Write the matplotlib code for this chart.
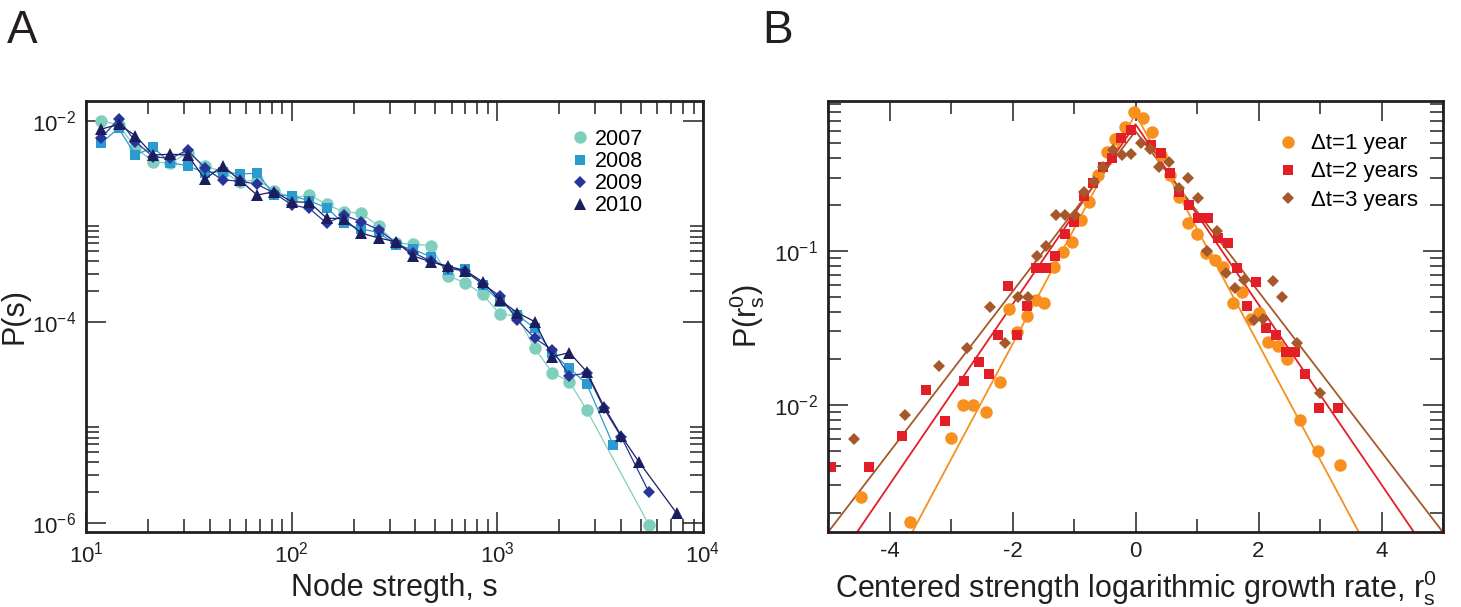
import numpy as np
import matplotlib
matplotlib.use("Agg")
import matplotlib.pyplot as plt
from matplotlib.lines import Line2D
from matplotlib.ticker import FixedLocator, FuncFormatter, NullFormatter

plt.rcParams['font.family'] = ['Liberation Sans', 'DejaVu Sans']
plt.rcParams['mathtext.fontset'] = 'custom'
plt.rcParams['mathtext.rm'] = 'Liberation Sans'
plt.rcParams['mathtext.it'] = 'Liberation Sans:italic'
plt.rcParams['mathtext.default'] = 'regular'
plt.rcParams['axes.unicode_minus'] = False

# ---- panel A : strength distribution (log bins) ----
s_bins = [11.8, 14.4, 17.4, 21.2, 25.7, 31.2, 37.9, 46.1, 55.9, 67.9, 82.5,
          100, 122, 148, 179, 218, 265, 321, 390, 474, 575, 699, 848, 1030,
          1250, 1520, 1850, 2240, 2720, 3300, 4010, 4870]

p_2007 = [1.0e-2, 9.1e-3, 5.39e-3, 3.91e-3, 3.77e-3, 4.78e-3, 3.56e-3, 3.11e-3,
          2.47e-3, 2.57e-3, 2.01e-3, 1.70e-3, 1.82e-3, 1.47e-3, 1.24e-3, 1.20e-3,
          8.89e-4, 6.02e-4, 5.93e-4, 5.70e-4, 2.85e-4, 2.44e-4, 1.87e-4, 1.19e-4,
          1.14e-4, 5.43e-5, 3.11e-5, 2.53e-5, 1.32e-5, 9.5e-7]
p_2008 = [5.96e-3, 8.4e-3, 4.56e-3, 5.43e-3, 3.82e-3, 3.56e-3, 3.04e-3, 3.11e-3,
          2.95e-3, 3.0e-3, 1.82e-3, 1.8e-3, 1.59e-3, 1.36e-3, 9.5e-4, 8.36e-4,
          7.73e-4, 5.8e-4, 5.25e-4, 4.43e-4, 3.27e-4, 3.34e-4, 2.32e-4, 1.58e-4,
          1.17e-4, 8.59e-5, 4.85e-5, 3.44e-5, 2.4e-5, 5.93e-6]
p_2009 = [6.68e-3, 1.04e-2, 6.18e-3, 4.38e-3, 4.22e-3, 5.1e-3, 3.36e-3, 2.57e-3,
          2.51e-3, 2.33e-3, 1.9e-3, 1.45e-3, 1.34e-3, 9.5e-4, 1.15e-3, 9.9e-4,
          8.2e-4, 6.1e-4, 4.86e-4, 4.02e-4, 3.44e-4, 3.16e-4, 2.37e-4, 1.8e-4,
          1.04e-4, 6.84e-5, 5.23e-5, 2.9e-5, 3.07e-5, 1.37e-5, 7.08e-6, 2.01e-6]
p_2010 = [8.21e-3, 9.2e-3, 7.1e-3, 4.56e-3, 4.63e-3, 4.56e-3, 2.61e-3, 3.56e-3,
          2.57e-3, 1.82e-3, 1.97e-3, 1.56e-3, 1.54e-3, 1.07e-3, 1.06e-3, 7.59e-4,
          6.81e-4, 6.25e-4, 4.51e-4, 3.95e-4, 3.58e-4, 3.21e-4, 2.5e-4, 1.64e-4,
          1.23e-4, 1.0e-4, 4.49e-5, 4.92e-5, 3.18e-5, 1.43e-5, 7.29e-6, 4.05e-6,
          1.24e-6]

# last bin of each year sits off the common grid
s_2007 = s_bins[:29] + [5460]
s_2008 = s_bins[:29] + [3660]
s_2009 = s_bins[:31] + [5460]
s_2010 = s_bins[:32] + [7450]

years = ['2007', '2008', '2009', '2010']

# ---- panel B : growth rate distributions ----
r_dt1 = [-4.46, -3.66, -3.00, -2.80, -2.64, -2.43, -2.21, -2.06, -1.92, -1.77,
         -1.62, -1.48, -1.33, -1.18, -1.04, -0.88, -0.75, -0.61, -0.46, -0.33,
         -0.17, -0.03, 0.12, 0.27, 0.42, 0.56, 0.70, 0.85, 1.00, 1.15, 1.29,
         1.43, 1.58, 1.73, 1.87, 2.01, 2.16, 2.31, 2.46, 2.67, 2.96, 3.33]
p_dt1 = [2.54e-3, 1.75e-3, 6.08e-3, 1.0e-2, 1.0e-2, 9.05e-3, 1.40e-2, 4.18e-2,
         2.99e-2, 3.8e-2, 4.8e-2, 4.57e-2, 7.9e-2, 9.8e-2, 0.115, 0.159, 0.209,
         0.312, 0.438, 0.533, 0.641, 0.796, 0.727, 0.59, 0.42, 0.31, 0.225,
         0.153, 0.128, 0.0975, 0.0875, 0.079, 0.0457, 0.054, 0.0362, 0.0394,
         0.0257, 0.0243, 0.0199, 8.0e-3, 5.0e-3, 4.07e-3]

r_dt2 = [-4.95, -4.34, -3.79, -3.41, -3.10, -2.79, -2.54, -2.39, -2.24, -2.08,
         -1.92, -1.77, -1.61, -1.46, -1.31, -1.15, -1.00, -0.84, -0.69, -0.53,
         -0.38, -0.23, -0.07, 0.26, 0.41, 0.56, 0.70, 0.87, 1.02, 1.18, 1.34,
         1.50, 1.65, 1.81, 1.96, 2.12, 2.28, 2.44, 2.59, 2.75, 2.98, 3.29]
p_dt2 = [3.98e-3, 3.98e-3, 6.3e-3, 1.26e-2, 7.9e-3, 1.43e-2, 1.89e-2, 1.58e-2,
         2.85e-2, 5.96e-2, 2.85e-2, 4.4e-2, 7.8e-2, 7.8e-2, 9.3e-2, 0.128, 0.155,
         0.229, 0.275, 0.352, 0.40, 0.545, 0.61, 0.487, 0.43, 0.32, 0.243, 0.20,
         0.163, 0.163, 0.121, 0.113, 0.078, 0.0441, 0.0626, 0.0315, 0.0285,
         0.0222, 0.0222, 0.0158, 9.55e-3, 9.55e-3]

r_dt3 = [-4.58, -3.75, -3.20, -2.74, -2.37, -2.13, -1.91, -1.75, -1.60, -1.45,
         -1.29, -1.14, -0.99, -0.83, -0.68, -0.53, -0.37, -0.22, -0.07, 0.09,
         0.24, 0.39, 0.55, 0.70, 0.85, 1.01, 1.16, 1.32, 1.47, 1.62, 1.77, 1.93,
         2.08, 2.23, 2.39, 2.62, 3.00]
p_dt3 = [6.0e-3, 8.6e-3, 1.79e-2, 2.33e-2, 4.3e-2, 2.51e-2, 5.0e-2, 5.0e-2,
         0.0929, 0.107, 0.171, 0.171, 0.171, 0.24, 0.279, 0.352, 0.453, 0.42,
         0.424, 0.50, 0.46, 0.352, 0.376, 0.255, 0.299, 0.22, 0.10, 0.135,
         0.0716, 0.0573, 0.0648, 0.0357, 0.0363, 0.064, 0.050, 0.0251, 0.012]

# laplace fits (straight lines in semi-log), end points and peak
fit_r = [-5, 0, 5]
fit_dt1 = [1.41e-4, 0.78, 1.41e-4]
fit_dt2 = [7.9e-4, 0.665, 7.9e-4]
fit_dt3 = [1.49e-3, 0.60, 1.49e-3]

dt_labels = [u'\u0394t=1 year', u'\u0394t=2 years', u'\u0394t=3 years']


def pow10(v, pos):
    return r'$\mathregular{10^{%d}}$' % int(round(np.log10(v)))


def style_axes(ax):
    for sp in ax.spines.values():
        sp.set_linewidth(2.0)
        sp.set_color('#231f20')
    ax.tick_params(which='both', direction='in', top=True, right=True,
                   width=1.1, color='#231f20', labelsize=16, pad=7,
                   labelcolor='#231f20')
    ax.tick_params(which='major', length=14.4)
    ax.tick_params(which='minor', length=9.7)


fig = plt.figure(figsize=(14.61, 6.07), dpi=100)

# ---------------- A ----------------
axA = fig.add_axes([86 / 1461, 1 - 532 / 607, 617 / 1461, 431 / 607])
colsA = ['#80cfbe', '#2a9ad0', '#27359a', '#1b1e5e']
mksA = ['o', 's', 'D', '^']
msA = [9, 7.5, 6.5, 9]
xsA = [s_2007, s_2008, s_2009, s_2010]
ysA = [p_2007, p_2008, p_2009, p_2010]
for xs, ys, c, m, ms in zip(xsA, ysA, colsA, mksA, msA):
    axA.plot(xs, ys, color=c, lw=0.9, marker=m, ms=ms, mec=c, mew=0,
             clip_on=False)

axA.set_xscale('log')
axA.set_yscale('log')
axA.set_xlim(10, 1e4)
axA.set_ylim(10 ** -6.093, 10 ** -1.804)
axA.xaxis.set_major_locator(FixedLocator([10, 100, 1000, 10000]))
axA.xaxis.set_minor_locator(FixedLocator(
    [k * 10 ** d for d in (1, 2, 3) for k in range(2, 10)]))
axA.yaxis.set_major_locator(FixedLocator([1e-6, 1e-4, 1e-2]))
axA.yaxis.set_minor_locator(FixedLocator(
    [k * 10.0 ** d for d in (-6, -4) for k in range(2, 10)]))
axA.xaxis.set_major_formatter(FuncFormatter(pow10))
axA.yaxis.set_major_formatter(FuncFormatter(pow10))
axA.xaxis.set_minor_formatter(NullFormatter())
axA.yaxis.set_minor_formatter(NullFormatter())
style_axes(axA)
axA.set_xlabel('Node stregth, s', fontsize=22, labelpad=4, color='#231f20')
axA.set_ylabel('P(s)', fontsize=22, labelpad=2, color='#231f20')

handlesA = [Line2D([], [], ls='none', marker=m, ms=ms, color=c, mew=0)
            for c, m, ms in zip(colsA, mksA, msA)]
axA.legend(handlesA, years, loc='upper left', bbox_to_anchor=(0.786, 0.935),
           frameon=False, fontsize=15.5, handlelength=0.8, handletextpad=0.3,
           labelspacing=0.05, borderpad=0, borderaxespad=0)

# ---------------- B ----------------
axB = fig.add_axes([828 / 1461, 1 - 531.7 / 607, 615 / 1461, 430.7 / 607])
colsB = ['#f7901e', '#e31e26', '#a6582a']
mksB = ['o', 's', 'D']
msB = [9, 7.8, 6.5]
for xs, ys, c in zip([fit_r] * 3, [fit_dt1, fit_dt2, fit_dt3], colsB):
    axB.plot(xs, ys, color=c, lw=1.3)
for xs, ys, c, m, ms, lab in zip([r_dt1, r_dt2, r_dt3], [p_dt1, p_dt2, p_dt3],
                                 colsB, mksB, msB, dt_labels):
    axB.plot(xs, ys, ls='none', marker=m, ms=ms, color=c, mew=0, label=lab)

axB.set_yscale('log')
axB.set_xlim(-5, 5)
axB.set_ylim(10 ** -2.823, 10 ** -0.026)
axB.xaxis.set_major_locator(FixedLocator([-4, -2, 0, 2, 4]))
axB.xaxis.set_minor_locator(FixedLocator([-5, -3, -1, 1, 3, 5]))
axB.yaxis.set_major_locator(FixedLocator([1e-3, 1e-2, 1e-1]))
axB.yaxis.set_minor_locator(FixedLocator(
    [k * 10.0 ** d for d in (-3, -2, -1) for k in range(2, 10)]))
axB.yaxis.set_major_formatter(FuncFormatter(pow10))
axB.yaxis.set_minor_formatter(NullFormatter())
style_axes(axB)
axB.set_xlabel(r'Centered strength logarithmic growth rate, $\mathregular{r^0_s}$',
               fontsize=22, labelpad=4, color='#231f20')
axB.set_ylabel(r'P($\mathregular{r^0_s}$)', fontsize=22, labelpad=5,
               color='#231f20')
axB.legend(loc='upper left', bbox_to_anchor=(0.733, 0.925), frameon=False,
           fontsize=16, handlelength=0.8, handletextpad=0.65,
           labelspacing=0.32, borderpad=0, borderaxespad=0)

fig.text(6.5 / 1461, 1 - 43.3 / 607, 'A', fontsize=33, color='#231f20',
         va='baseline', ha='left')
fig.text(762 / 1461, 1 - 43.3 / 607, 'B', fontsize=33, color='#231f20',
         va='baseline', ha='left')

fig.savefig('out.png', dpi=100)
